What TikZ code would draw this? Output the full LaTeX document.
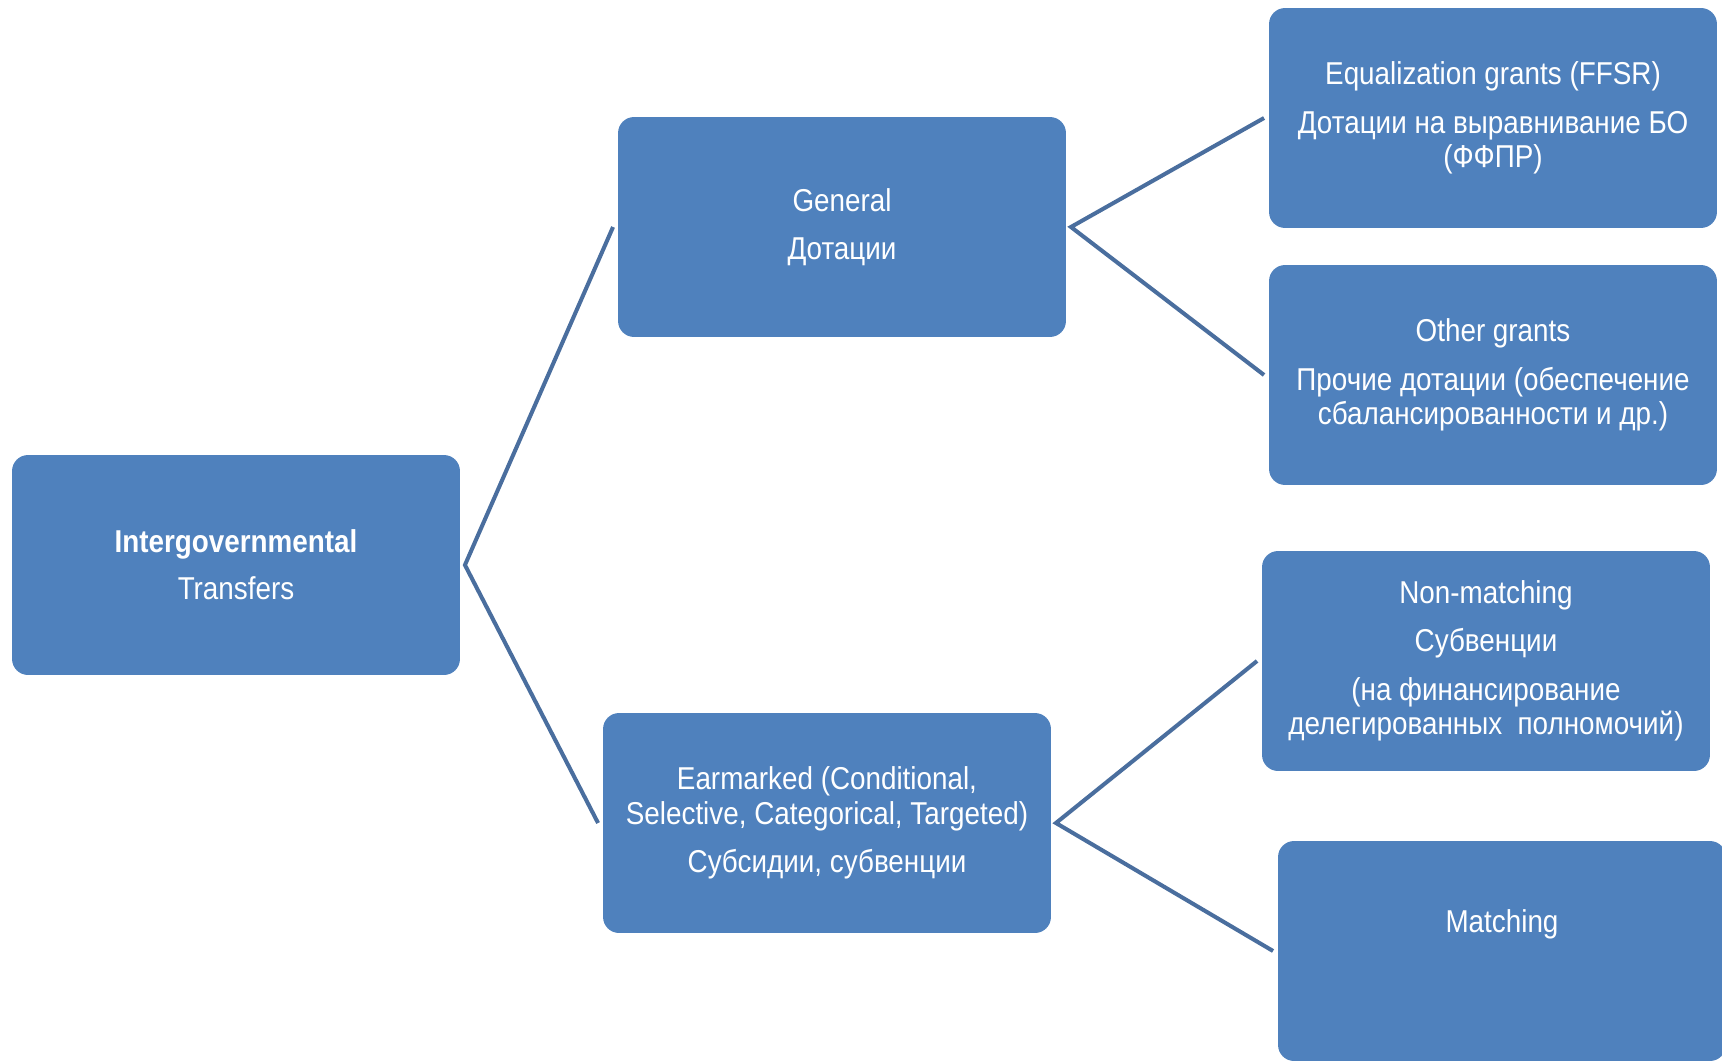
\documentclass[tikz,border=0pt]{standalone}
\usepackage{fontspec}
\setmainfont[FakeStretch=0.88]{Liberation Sans}
\definecolor{boxblue}{HTML}{4F81BD}
\definecolor{linkblue}{HTML}{4A6E9E}
\begin{document}
\begin{tikzpicture}[x=0.02cm,y=-0.02cm,
		box/.style={fill=boxblue,rounded corners=0.32cm,minimum width=8.96cm,minimum height=4.4cm,outer sep=0.1cm,text=white,align=center,font=\fontsize{18}{19.6}\selectfont},
		link/.style={draw=linkblue,line width=2.3pt}]
	\useasboundingbox (0,0) rectangle (1722,1061);
	% boxes
	\node[box] (root) at (236,565) {\textbf{Intergovernmental}\\[7pt]Transfers};
	\node[box] (gen) at (842,227) {General\\[8pt]Дотации};
	\node[box] (ear) at (827,823) {Earmarked (Conditional,\\Selective, Categorical, Targeted)\\[8pt]Субсидии, субвенции};
	\node[box] (eq) at (1493,118) {Equalization grants (FFSR)\\[8pt]Дотации на выравнивание БО\\(ФФПР)};
	\node[box] (oth) at (1493,375) {Other grants\\[8pt]Прочие дотации (обеспечение\\сбалансированности и др.)};
	\node[box] (nonm) at (1486,661) {Non-matching\\[8pt]Субвенции\\[8pt](на финансирование\\делегированных~~полномочий)};
	\node[box] (match) at (1502,951) {Matching\\[9pt]\strut};
	% connectors
	\draw[link] (gen.west)--(root.east)--(ear.west);
	\draw[link] (eq.west)--(gen.east)--(oth.west);
	\draw[link] (nonm.west)--(ear.east)--(match.west);
\end{tikzpicture}
\end{document}
